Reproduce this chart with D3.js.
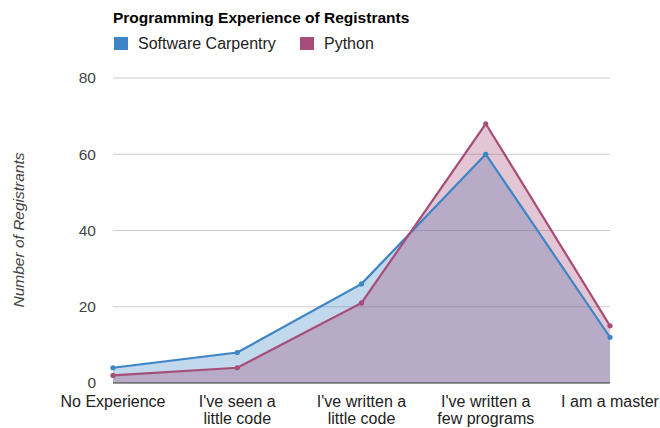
<!DOCTYPE html>
<html><head><meta charset="utf-8">
<script src="https://cdn.jsdelivr.net/npm/d3@7"></script>
<style>
html,body{margin:0;padding:0;background:#fff;}
svg{display:block;font-family:"Liberation Sans",Arial,sans-serif;}
</style></head>
<body><svg id="chart" width="660" height="428"></svg>
<script>
const categories = [["No Experience"], ["I've seen a", "little code"], ["I've written a", "little code"], ["I've written a", "few programs"], ["I am a master"]];
const softwareCarpentry = [4, 8, 26, 60, 12];
const python = [2, 4, 21, 68, 15];
const yTicks = [0, 20, 40, 60, 80];
const seriesNames = ["Software Carpentry", "Python"];
const colors = ["#3d85c6", "#a64d79"];

(function () {
const svg = d3.select("#chart");
const plotLeft = 113, plotRight = 610, plotTop = 78, plotBottom = 383;

const x = d3.scalePoint().domain(d3.range(categories.length)).range([plotLeft, plotRight]);
const y = d3.scaleLinear().domain([0, 80]).range([plotBottom, plotTop]);

svg.append("g").selectAll("line").data(yTicks.filter(d => d > 0)).join("line")
  .attr("x1", plotLeft).attr("x2", plotRight)
  .attr("y1", d => y(d)).attr("y2", d => y(d))
  .attr("stroke", "#cccccc").attr("stroke-width", 1);

svg.append("g").selectAll("text").data(yTicks).join("text")
  .attr("x", 96).attr("y", d => y(d)).attr("dy", "0.35em")
  .attr("text-anchor", "end").attr("font-size", 15.5).attr("fill", "#444")
  .text(d => d);

const series = [softwareCarpentry, python];
const area = d3.area().x((d, i) => x(i)).y0(y(0)).y1(d => y(d));
const line = d3.line().x((d, i) => x(i)).y(d => y(d));

series.forEach((s, k) => {
  svg.append("path").attr("d", area(s)).attr("fill", colors[k]).attr("fill-opacity", 0.32);
});
series.forEach((s, k) => {
  svg.append("path").attr("d", line(s)).attr("fill", "none").attr("stroke", colors[k]).attr("stroke-width", 2.2);
  svg.append("g").selectAll("circle").data(s).join("circle")
    .attr("cx", (d, i) => x(i)).attr("cy", d => y(d)).attr("r", 2.6).attr("fill", colors[k]);
});

svg.append("line").attr("x1", plotLeft).attr("x2", plotRight).attr("y1", y(0)).attr("y2", y(0))
  .attr("stroke", "#333").attr("stroke-width", 1);

const xl = svg.append("g").selectAll("text").data(categories).join("text")
  .attr("x", (d, i) => x(i)).attr("y", 407).attr("text-anchor", "middle")
  .attr("font-size", 16).attr("fill", "#222");
xl.selectAll("tspan").data(d => d).join("tspan")
  .attr("x", function() { return d3.select(this.parentNode).attr("x"); })
  .attr("dy", (d, i) => i === 0 ? 0 : 17).text(d => d);

svg.append("text").attr("transform", "translate(24,230) rotate(-90)")
  .attr("text-anchor", "middle").attr("font-size", 15.5).attr("font-style", "italic")
  .attr("fill", "#444").text("Number of Registrants");

svg.append("text").attr("x", 113).attr("y", 23).attr("font-size", 15.5).attr("font-weight", "bold")
  .attr("fill", "#000").text("Programming Experience of Registrants");

const legX = [114, 300];
seriesNames.forEach((n, k) => {
  svg.append("rect").attr("x", legX[k]).attr("y", 37).attr("width", 14).attr("height", 13).attr("fill", colors[k]);
  svg.append("text").attr("x", legX[k] + 24).attr("y", 49).attr("font-size", 16).attr("fill", "#222").text(n);
});
})();
</script></body></html>
